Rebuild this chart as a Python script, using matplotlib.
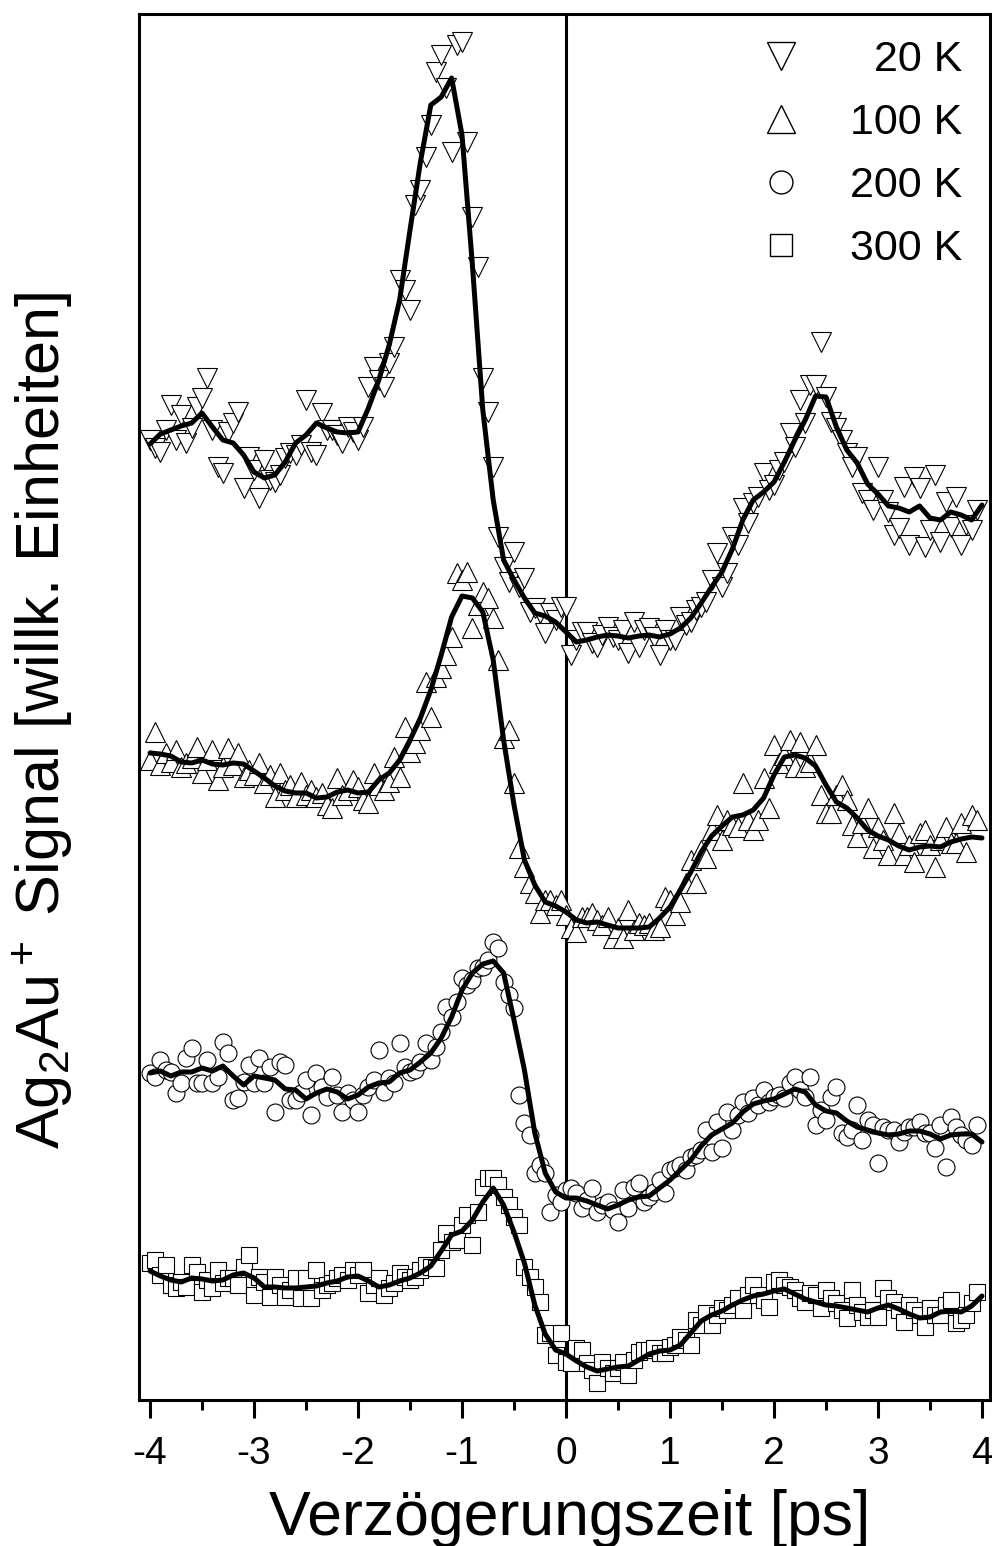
import matplotlib
matplotlib.use('Agg')
import matplotlib.pyplot as plt
from matplotlib.lines import Line2D
from matplotlib.ticker import MultipleLocator
import numpy as np

# delay axis (ps): measured points every 50 fs, smoothed curve every 100 fs
delay = np.round(np.arange(-4.0, 3.96, 0.05), 2)
delay_fit = np.round(np.arange(-4.0, 4.01, 0.1), 1)

# signal in arbitrary units, traces already stacked with their offsets
k20_pts = [960, 952, 948, 970, 995, 960, 985, 957, 972, 993,
           1002, 1022, 970, 933, 927, 968, 977, 988, 912, 943,
           930, 902, 940, 920, 918, 925, 942, 947, 945, 955,
           1000, 948, 945, 987, 970, 970, 965, 957, 973, 968,
           960, 973, 1013, 1033, 1020, 1013, 1037, 1053, 1120, 1110,
           1090, 1195, 1210, 1243, 1275, 1328, 1345, 1312, 1248, 1355,
           1358, 1258, 1183, 1133, 1022, 988, 933, 863, 833, 818,
           848, 813, 822, 788, 792, 787, 767, 787, 780, 793,
           793, 745, 760, 768, 768, 757, 753, 765, 773, 763,
           760, 770, 747, 778, 753, 770, 772, 763, 745, 770,
           760, 760, 783, 775, 778, 790, 793, 798, 820, 847,
           813, 827, 863, 855, 892, 877, 897, 903, 927, 910,
           915, 930, 938, 967, 953, 1000, 977, 1015, 1015, 1058,
           1003, 978, 972, 960, 947, 933, 943, 907, 900, 890,
           933, 900, 888, 865, 872, 913, 855, 923, 912, 853,
           870, 925, 858, 898, 873, 903, 855, 875, 870, 890]
k20_fit = [956, 966, 970, 974, 977, 987, 973, 960, 957, 945,
           928, 922, 925, 938, 957, 965, 977, 972, 968, 967,
           968, 992, 1020, 1055, 1100, 1170, 1238, 1295, 1303, 1322,
           1265, 1135, 990, 900, 840, 820, 802, 787, 784, 778,
           768, 758, 760, 763, 765, 764, 762, 764, 765, 763,
           766, 772, 782, 797, 813, 828, 851, 880, 900, 908,
           918, 938, 960, 980, 1004, 1003, 973, 950, 937, 916,
           906, 894, 892, 888, 894, 882, 880, 888, 885, 880,
           895]

k100_pts = [640, 668, 635, 647, 638, 650, 633, 637, 642, 653,
            627, 640, 650, 620, 633, 652, 635, 647, 623, 630,
            625, 637, 617, 625, 603, 627, 610, 615, 603, 618,
            605, 610, 603, 607, 595, 592, 622, 605, 610, 620,
            613, 600, 597, 627, 615, 610, 618, 643, 623, 673,
            648, 657, 670, 718, 683, 723, 732, 745, 763, 827,
            820, 828, 772, 795, 808, 802, 782, 740, 662, 670,
            617, 552, 533, 517, 507, 487, 500, 500, 495, 500,
            485, 472, 468, 483, 483, 487, 480, 475, 483, 462,
            472, 462, 490, 470, 477, 475, 477, 470, 473, 503,
            500, 485, 498, 517, 540, 517, 550, 542, 570, 585,
            560, 580, 575, 573, 617, 580, 570, 580, 622, 592,
            655, 637, 645, 660, 633, 658, 633, 638, 655, 605,
            587, 587, 605, 615, 600, 575, 563, 577, 592, 552,
            573, 560, 545, 587, 567, 545, 555, 538, 567, 570,
            555, 533, 560, 573, 557, 557, 577, 548, 585, 580]
k100_fit = [647, 646, 644, 638, 637, 640, 636, 635, 637, 636,
            629, 622, 614, 609, 607, 607, 602, 603, 608, 610,
            607, 608, 620, 627, 640, 660, 682, 710, 745, 783,
            804, 802, 788, 740, 660, 595, 540, 515, 498, 494,
            488, 480, 477, 478, 475, 472, 472, 472, 473, 482,
            493, 510, 528, 548, 564, 574, 583, 585, 590, 602,
            625, 643, 645, 642, 634, 615, 598, 592, 582, 570,
            564, 560, 554, 550, 553, 554, 553, 558, 561, 563,
            562]

k200_pts = [327, 323, 340, 330, 328, 307, 317, 342, 352, 317,
            317, 340, 317, 323, 358, 347, 300, 302, 318, 335,
            317, 342, 317, 333, 288, 338, 335, 300, 300, 307,
            320, 285, 327, 313, 303, 323, 305, 288, 307, 300,
            288, 305, 313, 320, 350, 308, 322, 317, 357, 333,
            328, 330, 338, 357, 340, 353, 368, 393, 383, 398,
            422, 415, 420, 432, 433, 440, 458, 452, 418, 405,
            392, 305, 277, 265, 227, 235, 227, 188, 205, 198,
            210, 212, 207, 192, 200, 212, 188, 195, 198, 190,
            178, 210, 192, 213, 217, 198, 203, 208, 220, 207,
            230, 232, 235, 230, 243, 245, 250, 270, 248, 278,
            252, 288, 270, 285, 298, 287, 302, 295, 310, 298,
            303, 305, 302, 317, 323, 310, 303, 323, 275, 290,
            280, 303, 313, 267, 263, 270, 295, 260, 280, 275,
            237, 273, 270, 270, 258, 268, 273, 273, 278, 267,
            267, 252, 275, 233, 283, 273, 265, 260, 255, 275]
k200_fit = [327, 329, 324, 328, 328, 332, 329, 334, 324, 315,
            324, 322, 320, 311, 310, 301, 307, 311, 308, 301,
            305, 313, 317, 318, 327, 330, 338, 347, 362, 383,
            410, 427, 436, 439, 427, 380, 330, 267, 227, 208,
            202, 202, 199, 195, 191, 195, 200, 203, 204, 212,
            220, 230, 240, 254, 265, 271, 277, 288, 296, 299,
            301, 306, 311, 308, 295, 289, 287, 279, 273, 270,
            267, 265, 266, 269, 269, 266, 261, 265, 266, 266,
            258]

k300_pts = [137, 140, 125, 135, 115, 112, 118, 113, 135, 128,
            108, 120, 112, 130, 117, 122, 122, 115, 133, 145,
            105, 123, 118, 103, 123, 115, 103, 110, 122, 102,
            122, 102, 130, 110, 115, 117, 122, 125, 120, 130,
            125, 130, 107, 115, 122, 105, 112, 117, 127, 123,
            120, 123, 130, 135, 133, 132, 150, 167, 158, 160,
            175, 185, 155, 188, 213, 222, 222, 215, 203, 195,
            183, 175, 133, 123, 113, 98, 65, 67, 45, 67,
            38, 37, 52, 50, 37, 30, 17, 38, 32, 27,
            32, 38, 25, 40, 48, 50, 50, 52, 47, 47,
            53, 55, 63, 60, 55, 80, 75, 87, 75, 85,
            92, 90, 95, 102, 90, 105, 115, 105, 100, 93,
            118, 120, 115, 113, 110, 102, 98, 107, 105, 92,
            110, 102, 97, 90, 82, 110, 95, 88, 83, 90,
            83, 112, 102, 98, 90, 78, 95, 90, 85, 73,
            92, 85, 85, 95, 100, 77, 80, 85, 97, 108]
k300_fit = [129, 124, 120, 118, 122, 121, 119, 120, 125, 127,
            122, 113, 113, 112, 112, 113, 114, 117, 119, 123,
            124, 119, 113, 115, 119, 122, 127, 134, 149, 165,
            169, 180, 198, 212, 195, 168, 137, 95, 66, 50,
            46, 39, 33, 29, 31, 33, 34, 40, 46, 49,
            50, 55, 67, 79, 85, 89, 95, 100, 104, 106,
            109, 111, 106, 101, 98, 95, 94, 92, 90, 88,
            92, 95, 91, 86, 82, 83, 88, 89, 88, 94,
            104]

temps = ['20 K', '100 K', '200 K', '300 K']
markers = ['v', '^', 'o', 's']
msizes = [14.5, 14.5, 12.2, 11.5]

plt.rcParams['font.family'] = ['Liberation Sans', 'DejaVu Sans']
plt.rcParams['axes.unicode_minus'] = False
plt.rcParams['mathtext.fontset'] = 'custom'
plt.rcParams['mathtext.rm'] = 'Liberation Sans'
plt.rcParams['mathtext.it'] = 'Liberation Sans:italic'
plt.rcParams['mathtext.bf'] = 'Liberation Sans:bold'

fig = plt.figure(figsize=(9.92, 15.46), dpi=100)
ax = fig.add_axes([139 / 992, 146 / 1546, 851 / 992, 1386 / 1546])

ax.axvline(0, color='black', lw=2.2, zorder=1)

series = [(k20_pts, k20_fit), (k100_pts, k100_fit),
          (k200_pts, k200_fit), (k300_pts, k300_fit)]
handles = []
for (pts, fit), mk, ms, lab in zip(series, markers, msizes, temps):
    ax.plot(delay, pts, ls='none', marker=mk, ms=ms, mfc='white',
            mec='black', mew=0.8, zorder=2)
    ax.plot(delay_fit, fit, color='black', lw=3.6, zorder=3,
            solid_joinstyle='round', solid_capstyle='round')
    handles.append(Line2D([], [], ls='none', marker=mk, ms=ms, mfc='white',
                          mec='black', mew=1.0))

ax.set_xlim(-4.106, 4.077)
ax.set_ylim(0, 1386)
ax.set_yticks([])
ax.xaxis.set_major_locator(MultipleLocator(1))
ax.xaxis.set_minor_locator(MultipleLocator(0.5))
ax.tick_params(axis='x', which='both', direction='out', width=2.2,
               top=False, labelsize=28, pad=13)
ax.tick_params(axis='x', which='major', length=13)
ax.tick_params(axis='x', which='minor', length=7)
for sp in ax.spines.values():
    sp.set_linewidth(2.2)

ax.set_xlabel('Verzögerungszeit [ps]', fontsize=45)
ax.xaxis.set_label_coords(0.506, -0.064)
ax.set_ylabel('Ag$_2$Au$^+$ Signal [willk. Einheiten]', fontsize=44)
ax.yaxis.set_label_coords(-0.075, 0.49)

labels = ['  ' + t if len(t) == 4 else t for t in temps]
ax.legend(handles, labels, loc='upper right', bbox_to_anchor=(0.967, 0.981),
          frameon=False, fontsize=31, markerscale=1.35, handlelength=1.0,
          handletextpad=1.1, labelspacing=0.53, borderpad=0, borderaxespad=0)

fig.savefig('out.png', dpi=100)
